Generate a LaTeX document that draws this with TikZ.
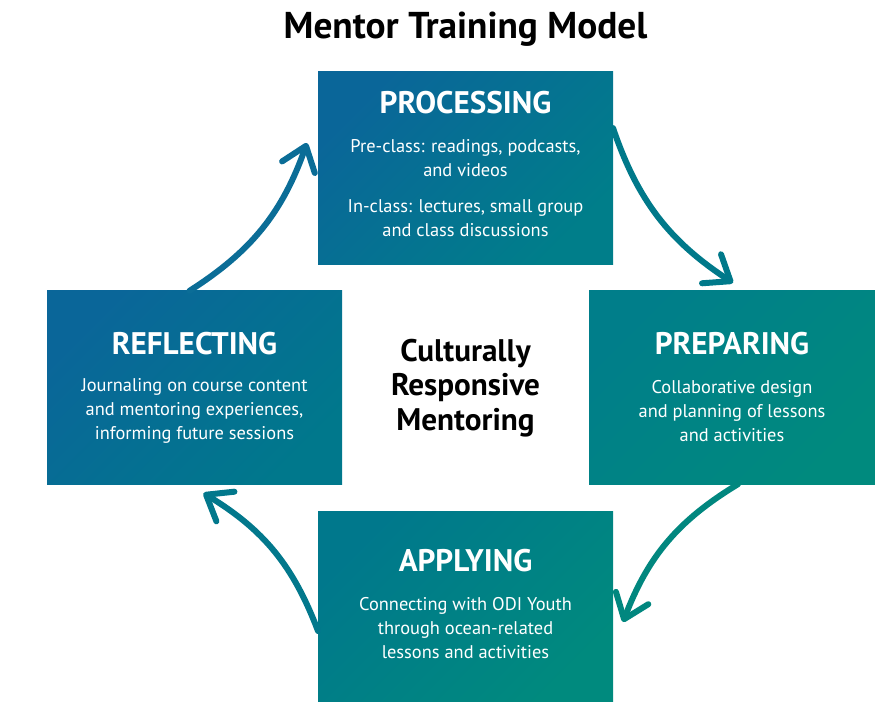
\documentclass[tikz,border=0pt]{standalone}
\usepackage{fontspec}
\setmainfont{PT Sans}
\usetikzlibrary{arrows.meta,calc}

\definecolor{deepblue}{RGB}{10,102,153}
\definecolor{bluteal}{RGB}{0,120,140}
\definecolor{midteal}{RGB}{0,126,138}
\definecolor{seateal}{RGB}{0,138,126}

\tikzset{every picture/.style={line width=0.75pt}}
\tikzset{
  stagebox/.style={inner sep=0pt, outer sep=0pt, minimum width=221.25pt, minimum height=145pt},
  stagehead/.style={text=white, inner sep=0.75pt, font=\fontsize{23.4}{28}\bfseries\selectfont},
  stagetext/.style={text=white, inner sep=0.75pt, align=center, font=\fontsize{13.8}{18}\selectfont},
  cycle arrow/.style={line width=4.5pt, line cap=round, -{Straight Barb[length=17pt,width=26pt,round]}},
}

\begin{document}
\begin{tikzpicture}[x=0.75pt,y=0.75pt,yscale=-1,xscale=1]
    \useasboundingbox (0,0) rectangle (875,701);

    % the four stages
    \node [stagebox, left color=deepblue, right color=midteal, shading angle=45] (process) at (465.5,168) {};
    \node [stagebox, minimum width=214.5pt, left color=midteal, right color=seateal, shading angle=45] (prepare) at (732,387.5) {};
    \node [stagebox, minimum height=142.5pt, left color=bluteal, right color=seateal, shading angle=45] (apply) at (465.5,606) {};
    \node [stagebox, left color=deepblue, right color=bluteal, shading angle=45] (reflect) at (194.5,387.5) {};

    % arrows round the cycle
    \draw [cycle arrow, color={rgb, 255:red, 11; green, 109; blue, 151 }] ($(reflect.north)+(-5,0)$) to[bend left=19] ($(process.west)+(-11,-25)$);
    \draw [cycle arrow, color={rgb, 255:red, 0; green, 121; blue, 138 }] ($(process.east)+(0,-40)$) to[bend left=19] ($(prepare.north)+(1,-8)$);
    \draw [cycle arrow, color={rgb, 255:red, 1; green, 135; blue, 127 }] ($(prepare.south)+(6,0)$) to[bend left=19] ($(apply.east)+(10,16)$);
    \draw [cycle arrow, color={rgb, 255:red, 2; green, 120; blue, 140 }] ($(apply.west)+(0,25)$) to[bend left=19] ($(reflect.south)+(9,9)$);

    % Text Node
    \node [font=\fontsize{28}{32}\bfseries\selectfont] (title) at (465.5,29) {Mentor Training Model};
    % Text Node
    \node [align=center, font=\fontsize{23.4}{26}\bfseries\selectfont] (core) at (465.5,388) {Culturally\\Responsive\\Mentoring};

    % Text Node
    \node [stagehead] (processhead) at (465.5,103) {PROCESSING};
    \node [stagetext] (processtext) at (465.5,188) {Pre-class: readings, podcasts,\\and videos\\[9pt]In-class: lectures, small group\\and class discussions};
    % Text Node
    \node [stagehead] (preparehead) at (732,344) {PREPARING};
    \node [stagetext] (preparetext) at (732,411) {Collaborative design\\and planning of lessons\\and activities};
    % Text Node
    \node [stagehead] (applyhead) at (465.5,561) {APPLYING};
    \node [stagetext] (applytext) at (465.5,628) {Connecting with ODI Youth\\through ocean-related\\lessons and activities};
    % Text Node
    \node [stagehead] (reflecthead) at (194.5,344) {REFLECTING};
    \node [stagetext] (reflecttext) at (194.5,411) {Journaling on course content\\and mentoring experiences,\\informing future sessions};
\end{tikzpicture}
\end{document}
